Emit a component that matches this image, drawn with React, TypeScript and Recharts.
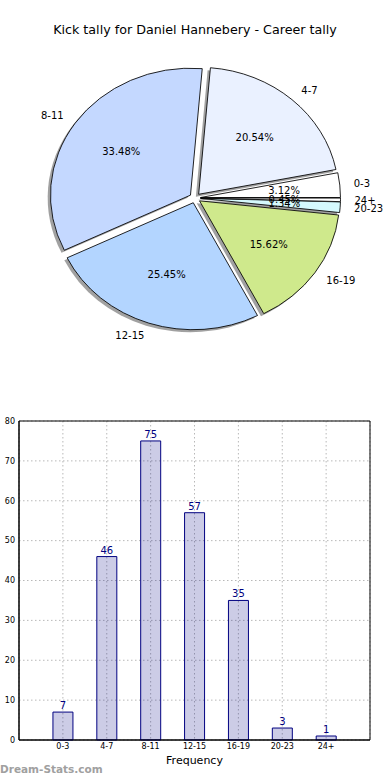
import React from 'react'
import {
  PieChart,
  Pie,
  Cell,
  BarChart,
  Bar,
  XAxis,
  YAxis,
  CartesianGrid,
  LabelList,
  ReferenceArea,
} from 'recharts'

const CATEGORIES = ['0-3', '4-7', '8-11', '12-15', '16-19', '20-23', '24+']
const COUNTS = [7, 46, 75, 57, 35, 3, 1]
const SLICE_COLORS = ['#ffffff', '#eaf1ff', '#c4d8ff', '#b3d5ff', '#cfe98c', '#d5f9fd', '#ffffff']
const Y_TICKS = [0, 10, 20, 30, 40, 50, 60, 70, 80]
const X_TICKS = [0, 1, 2, 3, 4, 5, 6]

const TITLE = 'Kick tally for Daniel Hannebery - Career tally'
const FONT = '"DejaVu Sans", Verdana, sans-serif'

// pie geometry (matplotlib pie drawn without equal aspect -> ellipse)
const CX = 195
const CY = 198
const R = 140
const SY = 0.907
const EXPLODE = 5.5
const SHADOW = 2.8

const pieData = CATEGORIES.map((name, i) => ({ name, value: COUNTS[i] }))
const barData = CATEGORIES.map((name, i) => ({ idx: i, name, count: COUNTS[i] }))

const total = COUNTS.reduce((a, b) => a + b, 0)
let acc = 0
const midAngles = COUNTS.map((v) => {
  const m = ((acc + v / 2) / total) * 360
  acc += v
  return m
})

const explodeOffset = (i: number) => {
  const rad = (midAngles[i] * Math.PI) / 180
  return { dx: EXPLODE * Math.cos(rad), dy: -EXPLODE * Math.sin(rad) }
}

// python-style "%.2f" (round half to even)
const fmtPct = (p: number) => {
  const x = p * 10000
  const f = Math.floor(x + 1e-9)
  const d = x - f
  let n = f
  if (d > 0.5 + 1e-6) n = f + 1
  else if (Math.abs(d - 0.5) <= 1e-6) n = f % 2 === 0 ? f : f + 1
  return (n / 100).toFixed(2) + '%'
}

// eslint-disable-next-line @typescript-eslint/no-explicit-any
const renderPieLabel = (props: any) => {
  const { midAngle, index, percent } = props
  const rad = (midAngle * Math.PI) / 180
  const c = Math.cos(rad)
  const s = Math.sin(rad)
  const ex = EXPLODE * c
  const ey = -EXPLODE * s
  const ox = CX + ex + 1.1 * R * c
  const oy = CY + (ey - 1.1 * R * s) * SY
  const px = CX + ex + 0.6 * R * c
  const py = CY + (ey - 0.6 * R * s) * SY
  return (
    <g key={`lbl-${index}`}>
      <text x={ox} y={oy} textAnchor={c > 0 ? 'start' : 'end'} dominantBaseline="central" fontSize={10} fontFamily={FONT} fill="#000">
        {CATEGORIES[index]}
      </text>
      <text x={px} y={py} textAnchor="middle" dominantBaseline="central" fontSize={10} fontFamily={FONT} fill="#000">
        {fmtPct(percent)}
      </text>
    </g>
  )
}

export default function App() {
  return (
    <div style={{ position: 'absolute', left: 0, top: 0, width: 390, height: 780, background: '#fff', fontFamily: FONT }}>
      <style>{`
        .pie-area .recharts-sector {
          transform-box: view-box;
          transform-origin: ${CX}px ${CY}px;
          transform: scaleY(${SY});
        }
      `}</style>

      <div style={{ position: 'absolute', left: 0, top: 22, width: 390, textAlign: 'center', fontSize: 12.7, color: '#000' }}>
        {TITLE}
      </div>

      <div className="pie-area" style={{ position: 'absolute', left: 0, top: 0 }}>
        <PieChart width={390} height={400} margin={{ top: 0, right: 0, bottom: 0, left: 0 }}>
          {CATEGORIES.map((_, i) => {
            const { dx, dy } = explodeOffset(i)
            return (
              <Pie
                key={`shadow-${i}`}
                data={pieData}
                dataKey="value"
                cx={CX + dx - SHADOW}
                cy={CY + dy + SHADOW}
                outerRadius={R}
                startAngle={0}
                endAngle={360}
                isAnimationActive={false}
              >
                {pieData.map((_, j) => (
                  <Cell key={j} fill={j === i ? '#444' : 'none'} fillOpacity={0.5} stroke="none" />
                ))}
              </Pie>
            )
          })}
          {CATEGORIES.map((_, i) => {
            const { dx, dy } = explodeOffset(i)
            return (
              <Pie
                key={`slice-${i}`}
                data={pieData}
                dataKey="value"
                cx={CX + dx}
                cy={CY + dy}
                outerRadius={R}
                startAngle={0}
                endAngle={360}
                isAnimationActive={false}
              >
                {pieData.map((_, j) => (
                  <Cell
                    key={j}
                    fill={j === i ? SLICE_COLORS[j] : 'none'}
                    stroke={j === i ? '#000' : 'none'}
                    strokeWidth={0.9}
                  />
                ))}
              </Pie>
            )
          })}
          <Pie
            data={pieData}
            dataKey="value"
            cx={CX}
            cy={CY}
            outerRadius={R}
            startAngle={0}
            endAngle={360}
            isAnimationActive={false}
            label={renderPieLabel}
            labelLine={false}
          >
            {pieData.map((_, j) => (
              <Cell key={j} fill="none" stroke="none" />
            ))}
          </Pie>
        </PieChart>
      </div>

      <div style={{ position: 'absolute', left: 0, top: 411 }}>
        <BarChart width={390} height={369} data={barData} margin={{ top: 10, right: 20, bottom: 10, left: 0 }}>
          <CartesianGrid stroke="#b8b8b8" strokeDasharray="1.5 2.5" />
          <XAxis
            dataKey="idx"
            type="number"
            domain={[-1, 7]}
            ticks={X_TICKS}
            tickFormatter={(v: number) => CATEGORIES[v] ?? ''}
            tick={{ fontSize: 8, fill: '#000', fontFamily: FONT }}
            tickLine={false}
            tickSize={0}
            tickMargin={3}
            axisLine={{ stroke: '#000' }}
            height={30}
            label={{ value: 'Frequency', position: 'insideBottom', offset: 6, fontSize: 11, fill: '#000', fontFamily: FONT }}
          />
          <YAxis
            domain={[0, 80]}
            ticks={Y_TICKS}
            width={19}
            tick={{ fontSize: 8, fill: '#000', fontFamily: FONT }}
            tickLine={false}
            tickSize={0}
            tickMargin={4}
            axisLine={{ stroke: '#000' }}
          />
          <ReferenceArea x1={-1} x2={7} y1={0} y2={80} fill="none" stroke="#000" strokeWidth={1} />
          <Bar dataKey="count" barSize={20} fill="#000080" fillOpacity={0.2} stroke="#000080" strokeWidth={1} isAnimationActive={false}>
            <LabelList dataKey="count" position="top" offset={3} fill="#000080" fontSize={10} fontFamily={FONT} />
          </Bar>
        </BarChart>
      </div>

      <div style={{ position: 'absolute', left: 0, top: 763, fontSize: 10.5, fontWeight: 'bold', color: '#a0a0a0', fontFamily: FONT }}>
        Dream-Stats.com
      </div>
    </div>
  )
}
